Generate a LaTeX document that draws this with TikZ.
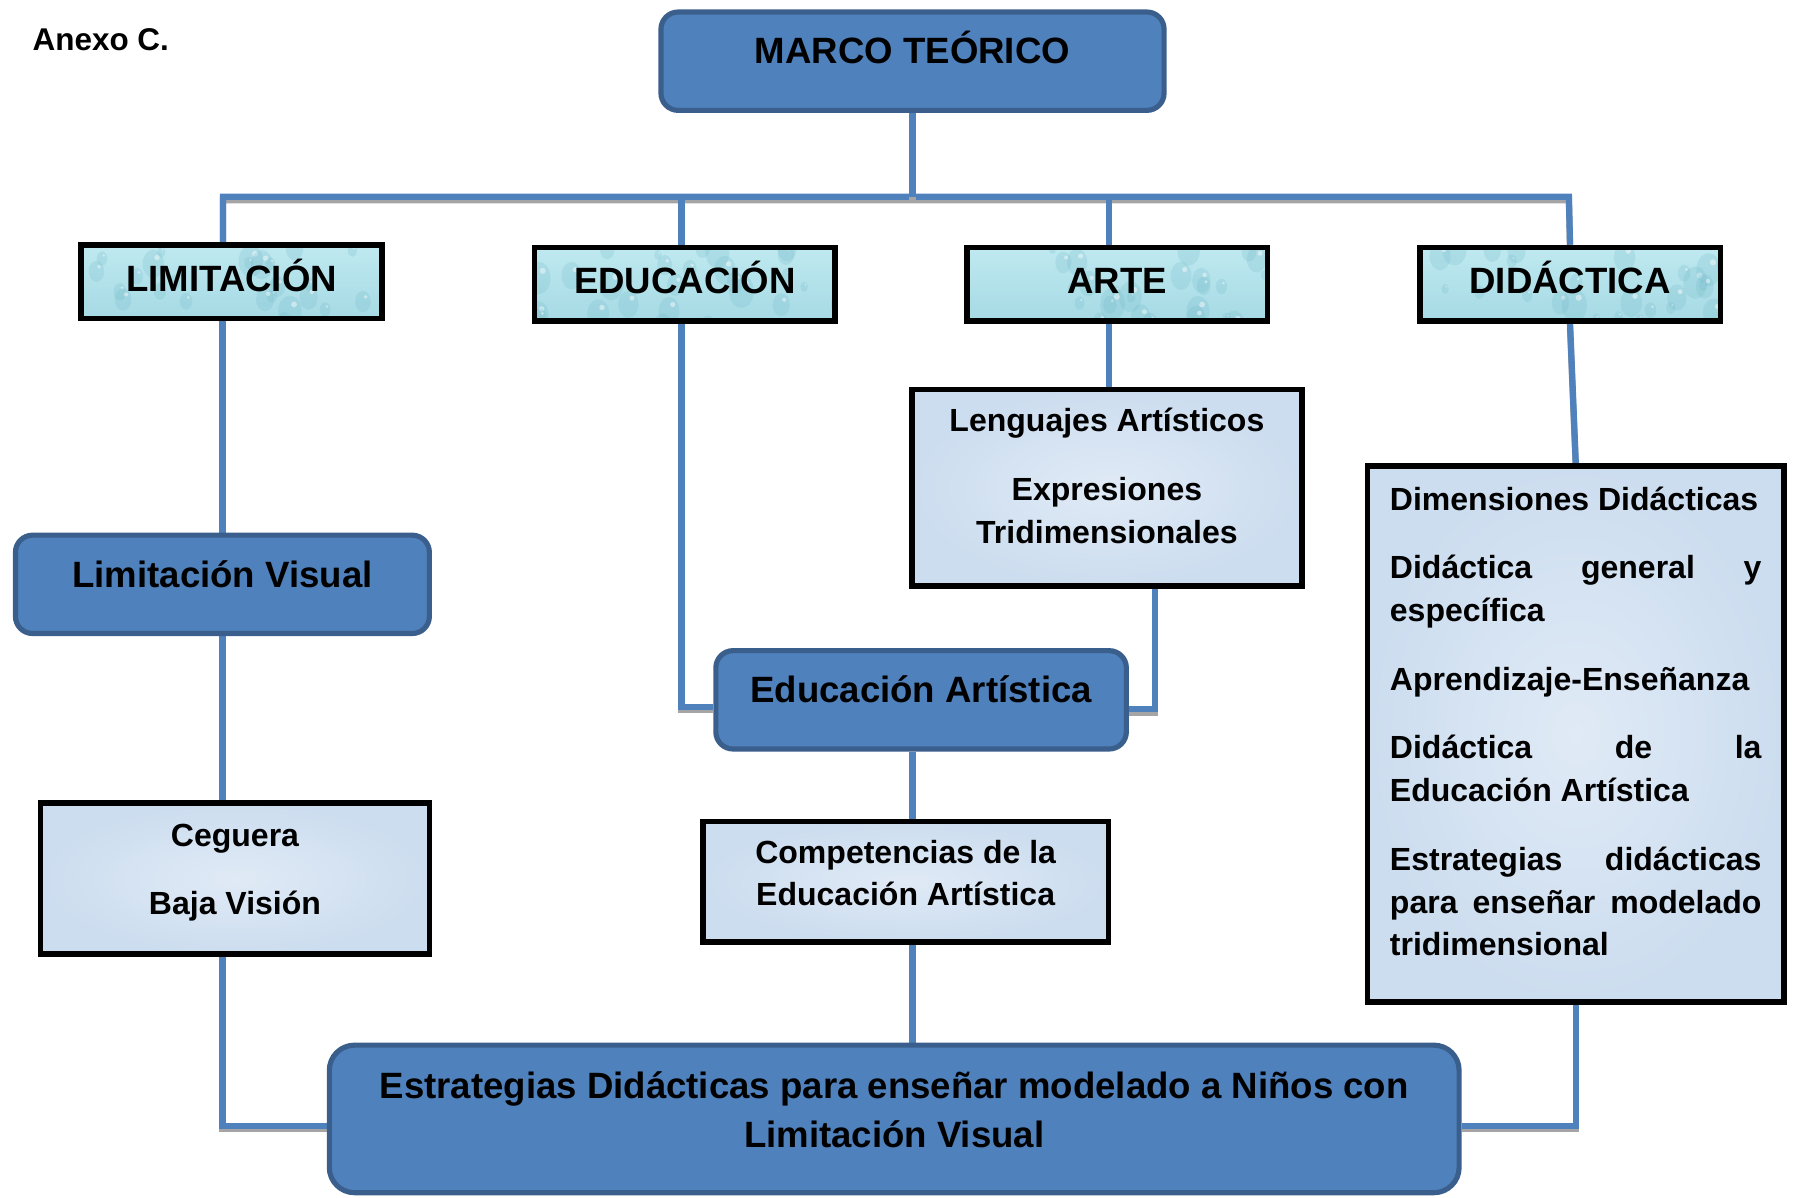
\documentclass[tikz,border=0pt]{standalone}
\usepackage{fontspec}
\setmainfont{Liberation Sans}
\usetikzlibrary{backgrounds}
\definecolor{bfill}{HTML}{4F81BD}
\definecolor{bdraw}{HTML}{3A5F8C}
\definecolor{lnk}{HTML}{4F81BD}
\definecolor{shd}{HTML}{A5A5A5}
\definecolor{aquaT}{HTML}{BFE9F0}
\definecolor{aquaB}{HTML}{A6DAE4}
\definecolor{aquaD}{HTML}{6FB8C8}
\definecolor{paperI}{HTML}{E0EAF6}
\definecolor{paperO}{HTML}{CCDDEF}
\newcommand{\boxtext}[2]{\raisebox{#1}[0pt][0pt]{\begin{tabular}[t]{@{}c@{}}#2\end{tabular}}}
\begin{document}
\begin{tikzpicture}[x=1pt,y=-1pt,
  bluebox/.style={rectangle, rounded corners=15pt, fill=bfill, draw=bdraw, line width=4.5pt, inner sep=0pt, font=\fontsize{32}{43}\selectfont\bfseries},
  headbox/.style={rectangle, draw=black, line width=5pt, top color=aquaT, bottom color=aquaB, inner sep=0pt, minimum width=263pt, minimum height=64pt, font=\fontsize{32}{38}\selectfont\bfseries,
    path picture={
      \pgfmathsetseed{#1}
      \foreach \k in {1,...,26}{
        \pgfmathsetmacro{\dx}{rnd*270}
        \pgfmathsetmacro{\dy}{rnd*70}
        \pgfmathsetmacro{\rr}{3+rnd*8}
        \fill[aquaD, opacity=0.22] ([shift={(\dx pt,-\dy pt)}]path picture bounding box.north west) ellipse ({\rr pt} and {1.35*\rr pt});
        \fill[white, opacity=0.45] ([shift={(\dx pt+0.35*\rr pt,-\dy pt+0.6*\rr pt)}]path picture bounding box.north west) circle ({0.25*\rr pt});
      }}},
  paperbox/.style={rectangle, draw=black, line width=5pt, inner color=paperI, outer color=paperO, inner sep=0pt, font=\fontsize{28}{37}\selectfont\bfseries},
  link/.style={draw=lnk, line width=5.5pt, preaction={draw=shd, line width=5.5pt, transform canvas={yshift=-3pt}}}
]
\useasboundingbox (0,0) rectangle (1568,1047);

\node[anchor=base west, font=\fontsize{27.5}{30}\selectfont\bfseries] (anexo) at (25,44) {Anexo C.};

\node[bluebox, minimum width=440pt, minimum height=86pt] (marco) at (798,53.5) {\boxtext{-2pt}{MARCO TEÓRICO}};

\node[headbox=11] (limit) at (202.5,246.5) {\boxtext{-8.5pt}{LIMITACIÓN}};
\node[headbox=23] (educ) at (599,248.5) {\boxtext{-8.5pt}{EDUCACIÓN}};
\node[headbox=37] (arte) at (977,248.5) {\boxtext{-8.5pt}{ARTE}};
\node[headbox=51] (didac) at (1373,248.5) {\boxtext{-8.5pt}{DIDÁCTICA}};

\node[bluebox, minimum width=362pt, minimum height=86pt] (limvis) at (194.5,511) {\boxtext{-2.5pt}{Limitación Visual}};
\node[paperbox, minimum width=340pt, minimum height=132pt] (ceg) at (205.5,768.5) {\boxtext{28.5pt}{Ceguera\\[23pt]Baja Visión}};
\node[paperbox, minimum width=341pt, minimum height=172pt] (lang) at (968,426.5) {\boxtext{49.5pt}{Lenguajes Artísticos\\[24pt]Expresiones\\Tridimensionales}};
\node[bluebox, minimum width=359pt, minimum height=86pt] (eduart) at (805.5,612) {\boxtext{-2pt}{Educación Artística}};
\node[paperbox, minimum width=355pt, minimum height=105pt] (comp) at (792,771) {\boxtext{16pt}{Competencias de la\\Educación Artística}};
\node[paperbox, minimum width=364pt, minimum height=469pt] (dimen) at (1378,642) {\raisebox{196pt}[0pt][0pt]{\begin{minipage}[t]{325pt}\setlength{\parskip}{22.5pt}\setlength{\parindent}{0pt}\fontsize{28}{37.5}\selectfont
Dimensiones~Didácticas\par
Didáctica general y\linebreak específica\par
Aprendizaje-Enseñanza\par
Didáctica de la\linebreak Educación Artística\par
Estrategias didácticas\linebreak para enseñar modelado\linebreak tridimensional\par
\end{minipage}}};
\node[bluebox, rounded corners=22pt, minimum width=988pt, minimum height=129pt] (estr) at (782,978.5) {\boxtext{18pt}{Estrategias Didácticas para enseñar modelado a Niños con\\Limitación Visual}};

\begin{scope}[on background layer]
\coordinate (busL) at (195,172);
\coordinate (busR) at (1372,172);
\coordinate (jE) at (596,172);
\coordinate (jA) at (970,172);
\draw[link] (limit.north -| busL) -- (busL) -- (busR) -- (didac.north);
\draw[link] (marco.south) -- (marco.south |- busL);
\draw[link] (jE) -- (jE |- educ.north);
\draw[link] (jA) -- (jA |- arte.north);
\draw[link] (limvis.north |- limit.south) -- (limvis.north);
\draw[link] (limvis.south) -- (limvis.south |- ceg.north);
\draw[link] (limvis.south |- ceg.south) |- ([yshift=-6pt]estr.west);
\draw[link] (jE |- educ.south) |- ([yshift=-6pt]eduart.west);
\draw[link] (jA |- arte.south) -- (jA |- lang.north);
\draw[link] ([xshift=42pt]lang.south) |- ([yshift=-8pt]eduart.east);
\draw[link] (eduart.south -| marco.south) -- (comp.north -| marco.south);
\draw[link] (comp.south -| marco.south) -- (estr.north -| marco.south);
\draw[link] (didac.south) -- (dimen.north);
\draw[link] (dimen.south) |- ([yshift=-6pt]estr.east);
\end{scope}
\end{tikzpicture}
\end{document}
